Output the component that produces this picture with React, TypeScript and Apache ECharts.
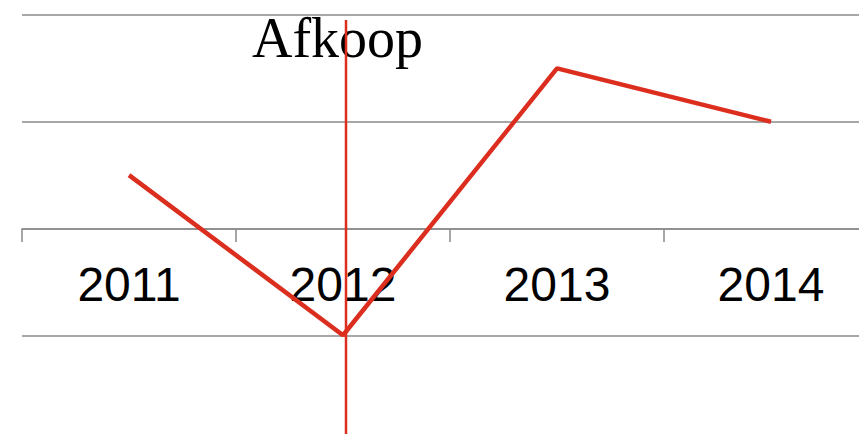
import React, { useEffect, useRef } from "react";
import * as echarts from "echarts";

const categories = ["2011", "2012", "2013", "2014"];
const afkoopValues = [0.5, -1, 1.5, 1];
const yMin = -2;
const yMax = 2;
const yInterval = 1;
const titleText = "Afkoop";

const gray = "#8a8a8a";
const red = "#dc2e1e";

export default function App() {
  const ref = useRef<HTMLDivElement>(null);
  useEffect(() => {
    if (!ref.current) return;
    const chart = echarts.init(ref.current, null, { renderer: "svg" });
    chart.setOption({
      animation: false,
      grid: [
        {
          left: 22,
          right: -19,
          top: 15,
          bottom: -8,
          containLabel: false,
          outerBoundsMode: "none",
        },
        {
          left: 22,
          right: -19,
          top: 15,
          bottom: 205,
          containLabel: false,
          outerBoundsMode: "none",
        },
      ],
      xAxis: [
        {
          type: "category",
          gridIndex: 0,
          data: categories,
          boundaryGap: true,
          axisLine: { show: false },
          axisTick: { show: false },
          axisLabel: { show: false },
          splitLine: { show: false },
        },
        {
          type: "category",
          gridIndex: 1,
          data: categories,
          boundaryGap: true,
          position: "bottom",
          axisLine: { onZero: false, lineStyle: { color: gray, width: 1.5 } },
          axisTick: { show: true, length: 13, lineStyle: { color: gray, width: 1.5 } },
          axisLabel: {
            color: "#000",
            fontFamily: "Liberation Sans, Arial, sans-serif",
            fontSize: 48,
            margin: 31,
          },
          splitLine: { show: false },
        },
      ],
      yAxis: [
        {
          type: "value",
          gridIndex: 0,
          min: yMin,
          max: yMax,
          interval: yInterval,
          axisLine: { show: false },
          axisTick: { show: false },
          axisLabel: { show: false },
          splitLine: { show: true, lineStyle: { color: gray, width: 1.5 } },
        },
        {
          type: "value",
          gridIndex: 1,
          show: false,
          splitLine: { show: false },
        },
      ],
      series: [
        {
          type: "line",
          xAxisIndex: 0,
          yAxisIndex: 0,
          data: afkoopValues,
          symbol: "none",
          lineStyle: { color: red, width: 4.5 },
          z: 5,
        },
      ],
      graphic: [
        {
          type: "text",
          left: 252,
          top: 10,
          style: {
            text: titleText,
            fontFamily: "Liberation Serif, Times New Roman, serif",
            fontSize: 56,
            fill: "#000",
          },
          z: 10,
        },
        {
          type: "line",
          shape: { x1: 346, y1: 20, x2: 346, y2: 460 },
          style: { stroke: red, lineWidth: 2.5 },
          z: 20,
        },
      ],
    });
    return () => chart.dispose();
  }, []);
  return (
    <div
      ref={ref}
      style={{ position: "absolute", left: 0, top: 0, width: 859, height: 434 }}
    />
  );
}
